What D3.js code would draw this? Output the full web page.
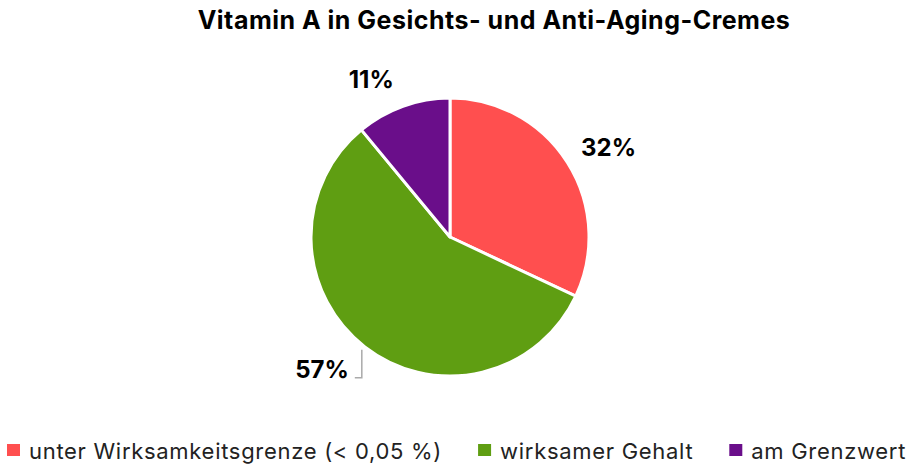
<!DOCTYPE html>
<html>
<head>
<meta charset="utf-8">
<script src="https://cdn.jsdelivr.net/npm/d3@7"></script>
<style>
  body { margin: 0; background: #fff; }
  text { font-family: Inter, "Noto Sans", sans-serif; }
</style>
</head>
<body>
<div id="chart"></div>
<script>
var title = 'Vitamin A in Gesichts- und Anti-Aging-Cremes';
var categories = ['unter Wirksamkeitsgrenze (< 0,05 %)', 'wirksamer Gehalt', 'am Grenzwert'];
var values = [32, 57, 11];
var colors = ['#ff4f4f', '#5f9e12', '#6a0e8a'];

var width = 914, height = 467;
var cx = 450, cy = 237, radius = 139;

var svg = d3.select('#chart').append('svg')
    .attr('width', width)
    .attr('height', height);

svg.append('text')
    .attr('x', 494)
    .attr('y', 29)
    .attr('text-anchor', 'middle')
    .style('font-size', '25px')
    .style('letter-spacing', '0.5px')
    .style('font-weight', 'bold')
    .text(title);

var data = categories.map(function(c, i) { return {name: c, value: values[i], color: colors[i]}; });

var pie = d3.pie().sort(null).value(function(d) { return d.value; });
var arc = d3.arc().innerRadius(0).outerRadius(radius);
var arcs = pie(data);

var g = svg.append('g')
    .attr('transform', 'translate(' + cx + ',' + cy + ')');

g.selectAll('path.slice')
    .data(arcs)
  .enter().append('path')
    .attr('class', 'slice')
    .attr('d', arc)
    .attr('fill', function(d) { return d.data.color; })
    .attr('stroke', '#fff')
    .attr('stroke-width', 3)
    .attr('stroke-linejoin', 'round');

// Labels outside the pie.
var labelR = 160;
arcs.forEach(function(d) {
    var a = (d.startAngle + d.endAngle) / 2;
    var sx = Math.sin(a), sy = -Math.cos(a);
    var lx = sx * labelR - 4, ly = sy * labelR + 5;
    var anchor = sx >= 0 ? 'start' : 'end';
    if (sy > 0.5) {
        // bottom label with elbow connector
        var ex = sx * radius, ey = sy * radius + 3;
        ly = sy * radius + 3 + 28;
        var lineY = ly;
        lx = ex - 14;
        g.append('path')
            .attr('d', 'M' + (ex - 3) + ',' + ey + 'L' + (ex - 3) + ',' + lineY + 'L' + (lx + 4) + ',' + lineY)
            .attr('fill', 'none')
            .attr('stroke', '#aaa')
            .attr('stroke-width', 1.5);
        lx = lx - 2;
    } else if (sx < 0) {
        lx += 2; ly -= 3;
    }
    g.append('text')
        .attr('x', lx)
        .attr('y', ly)
        .attr('text-anchor', anchor)
        .style('font-size', '24px')
        .style('font-weight', 'bold')
        .text(d.data.value + '%');
});

// Legend.
var legend = svg.append('g').attr('transform', 'translate(0,450)');
var xPos = 7;
data.forEach(function(d) {
    legend.append('rect')
        .attr('x', xPos)
        .attr('y', -6)
        .attr('width', 13)
        .attr('height', 12)
        .attr('fill', d.color);
    var t = legend.append('text')
        .attr('x', xPos + 22)
        .attr('y', 9)
        .style('font-size', '22px')
        .style('letter-spacing', '0.7px')
        .style('fill', '#222')
        .text(d.name);
    xPos += 22 + t.node().getComputedTextLength() + 36;
});
</script>
</body>
</html>
